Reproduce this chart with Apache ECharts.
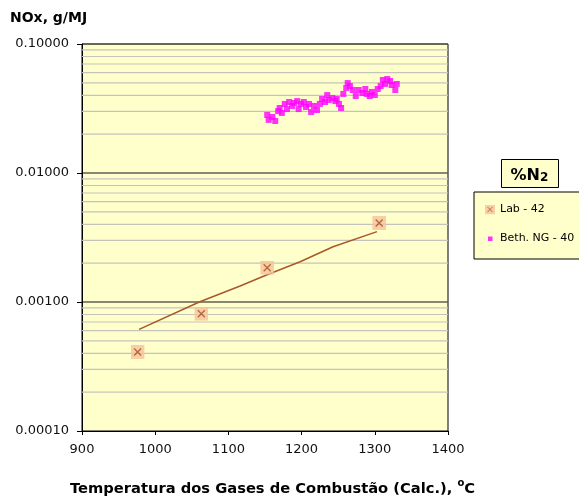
<!DOCTYPE html>
<html>
<head>
<meta charset="utf-8">
<script src="https://cdn.jsdelivr.net/npm/echarts@6/dist/echarts.min.js"></script>
<style>
html,body{margin:0;padding:0;background:#fff;}
#chart{width:579px;height:497px;}
</style>
</head>
<body>
<div id="chart"></div>
<script>
// ---- data ----
const xMin = 900, xMax = 1400, xStep = 100;
const yMin = 0.0001, yMax = 0.1;
const labName = 'Lab - 42';
const bethName = 'Beth. NG - 40';
const labTemp = [976, 1063, 1153, 1306];
const labNOx = [0.00041, 0.00081, 0.00184, 0.0041];
const fitTemp = [978, 1061, 1116, 1152, 1198, 1243, 1303];
const fitNOx = [0.000614, 0.001005, 0.00133, 0.00162, 0.00205, 0.00268, 0.00351];
const bethTemp = [1153, 1155, 1160, 1164, 1168, 1170, 1173, 1177, 1180, 1183, 1187, 1190, 1194, 1196, 1199,
  1203, 1206, 1210, 1213, 1217, 1221, 1225, 1228, 1232, 1235, 1237, 1242, 1246, 1248, 1251, 1254, 1257,
  1261, 1263, 1266, 1270, 1274, 1278, 1283, 1287, 1289, 1293, 1296, 1300, 1304, 1308, 1311, 1314, 1317,
  1321, 1323, 1328, 1330];
const bethNOx = [0.0282, 0.0258, 0.0272, 0.0253, 0.0302, 0.0319, 0.0292, 0.0343, 0.0313, 0.0355, 0.0331,
  0.0349, 0.0361, 0.0313, 0.0343, 0.0355, 0.0325, 0.0343, 0.0297, 0.0331, 0.0308, 0.0343, 0.0375, 0.0355,
  0.0402, 0.0368, 0.0381, 0.0361, 0.0375, 0.0343, 0.0319, 0.0410, 0.0456, 0.0498, 0.0472, 0.0440, 0.0395,
  0.0440, 0.0417, 0.0448, 0.0410, 0.0395, 0.0425, 0.0402, 0.0448, 0.0472, 0.0526, 0.0490, 0.0535, 0.0517,
  0.0481, 0.0440, 0.0490];
const minorMultipliers = [2, 3, 4, 5, 6, 7, 8, 9];
const decades = [0.0001, 0.001, 0.01];

// ---- helpers ----
const zip = (a, b) => a.map((v, i) => [v, b[i]]);
const svgUri = s => 'image://data:image/svg+xml;charset=utf-8,' + encodeURIComponent(s);
const labSymbol = svgUri("<svg xmlns='http://www.w3.org/2000/svg' width='14' height='14' viewBox='0 0 14 14'>" +
  "<rect x='0' y='0' width='14' height='14' fill='#F9C39C'/>" +
  "<path d='M3.5,3.5 L10.5,10.5 M10.5,3.5 L3.5,10.5' stroke='#A4461C' stroke-width='1.4' fill='none'/></svg>");
const bethIcon = svgUri("<svg xmlns='http://www.w3.org/2000/svg' width='10' height='10' viewBox='0 0 10 10'>" +
  "<rect x='3' y='3' width='4.5' height='4.5' fill='#FF00FF'/></svg>");

const minorValues = [];
decades.forEach(d => minorMultipliers.forEach(k => {
  minorValues.push(Number((k * d).toPrecision(3)));
}));
const minorSeries = minorValues.map(v => ({
  name: 'grid-' + v, type: 'line', data: [[xMin, v], [xMax, v]],
  symbol: 'none', showSymbol: false, silent: true, z: 1, clip: true,
  lineStyle: { color: '#c4c4bc', width: 1.2 }, tooltip: { show: false }
}));

const FONT = 'DejaVu Sans';
const chart = echarts.init(document.getElementById('chart'), null, { renderer: 'canvas' });
chart.setOption({
  animation: false,
  backgroundColor: '#ffffff',
  grid: {
    left: 82, right: 131, top: 44, bottom: 66,
    show: true, backgroundColor: '#FFFFCC', borderColor: '#000', borderWidth: 1
  },
  xAxis: {
    type: 'value', min: xMin, max: xMax, interval: xStep,
    axisLine: { show: true, lineStyle: { color: '#000', width: 1 } },
    axisTick: { show: true, length: 4, lineStyle: { color: '#000' } },
    axisLabel: { color: '#111', fontFamily: FONT, fontSize: 13, margin: 12, formatter: v => String(v) },
    splitLine: { show: false }
  },
  yAxis: {
    type: 'log', logBase: 10, min: yMin, max: yMax, interval: 1,
    axisLine: { show: true, lineStyle: { color: '#000', width: 1 } },
    axisTick: { show: true, length: 5, lineStyle: { color: '#000' } },
    axisLabel: {
      color: '#111', fontFamily: FONT, fontSize: 13, margin: 13,
      formatter: v => Number(v).toFixed(5)
    },
    splitLine: { show: true, showMinLine: false, showMaxLine: false, lineStyle: { color: '#5f5f55', width: 1.6 } }
  },
  legend: {
    orient: 'vertical', left: 474, top: 192,
    backgroundColor: '#FFFFCC', borderColor: '#000', borderWidth: 1,
    padding: [12, 50, 15, 11],
    itemWidth: 10, itemHeight: 10, itemGap: 18,
    textStyle: { fontFamily: FONT, fontSize: 11, color: '#000' },
    data: [
      { name: labName, icon: labSymbol },
      { name: bethName, icon: bethIcon }
    ]
  },
  graphic: [
    {
      type: 'text', left: 10, top: 11,
      style: { text: 'NOx, g/MJ', font: 'bold 14px "DejaVu Sans"', fill: '#000' }
    },
    {
      type: 'group', left: 501, top: 159,
      children: [
        { type: 'rect', shape: { x: 0, y: 0, width: 57, height: 28 },
          style: { fill: '#FFFFCC', stroke: '#000', lineWidth: 1 } },
        { type: 'text', x: 9, y: 4,
          style: {
            text: '{a|%N}{b|2}',
            rich: {
              a: { font: 'bold 16px "DejaVu Sans"', fill: '#000', verticalAlign: 'bottom' },
              b: { font: 'bold 12px "DejaVu Sans"', fill: '#000', padding: [8, 0, 0, 0] }
            }
          } }
      ]
    },
    {
      type: 'text', left: 70, top: 478,
      style: {
        text: '{t|Temperatura dos Gases de Combustão (Calc.), }{s|o}{t|C}',
        rich: {
          t: { font: 'bold 14.7px "DejaVu Sans"', fill: '#000', padding: [4, 0, 0, 0] },
          s: { font: 'bold 10px "DejaVu Sans"', fill: '#000', padding: [0, 0, 8, 0] }
        }
      }
    }
  ],
  series: minorSeries.concat([
    {
      name: 'fit', type: 'line', data: zip(fitTemp, fitNOx), showSymbol: false, symbol: 'none',
      lineStyle: { color: '#A9582A', width: 1.5 }, z: 2, silent: true
    },
    {
      name: labName, type: 'scatter', data: zip(labTemp, labNOx),
      symbol: labSymbol, symbolSize: 14, z: 3
    },
    {
      name: bethName, type: 'scatter', data: zip(bethTemp, bethNOx),
      symbol: 'rect', symbolSize: 6, itemStyle: { color: '#FF00FF' }, z: 4
    }
  ])
});
</script>
</body>
</html>
